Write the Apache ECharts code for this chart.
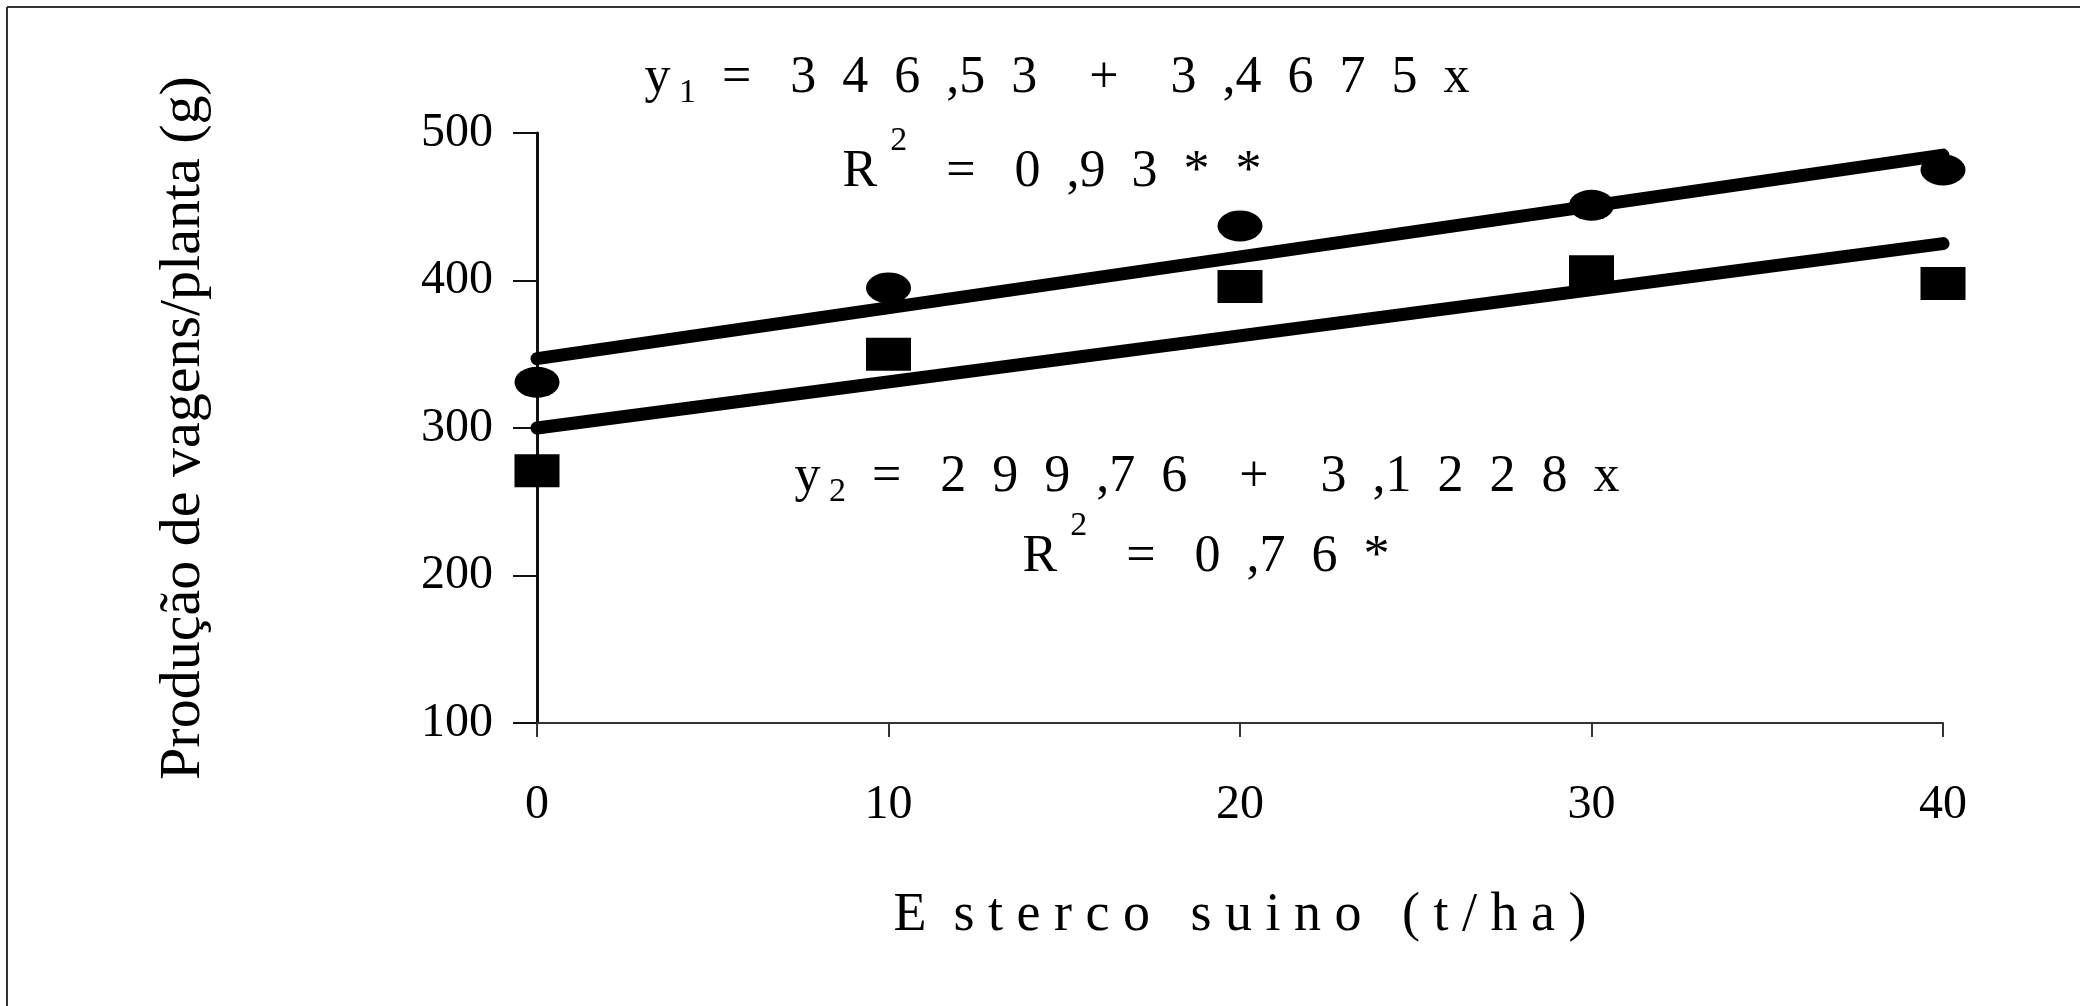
<!DOCTYPE html>
<html>
<head>
<meta charset="utf-8">
<script src="https://cdn.jsdelivr.net/npm/echarts@6/dist/echarts.min.js"></script>
<style>
html, body { margin: 0; padding: 0; background: #fff; }
#chart { width: 2080px; height: 1006px; }
</style>
</head>
<body>
<div id="chart"></div>
<script>
// valores
const doses = [0, 10, 20, 30, 40]
const prod1 = [331, 395, 437, 451, 475]   // y1, circulos
const prod2 = [271, 350, 396, 406, 398]   // y2, quadrados
// extremos das retas ajustadas
const fitX = [0, 40]
const fit1 = [347, 485]
const fit2 = [300, 425]
const yTicks = [100, 200, 300, 400, 500]
const xTicks = [0, 10, 20, 30, 40]

const serif = "'Liberation Serif', 'DejaVu Serif', serif"

//monta pares [x, y]
const pairs = (xs, ys) => xs.map((x, i) => [x, ys[i]])

//texto das equacoes com sub/sobrescrito
const eqText = (text, x, y) => ({
  type: "text",
  x: x,
  y: y,
  style: {
    text: text,
    align: "center",
    verticalAlign: "middle",
    fill: "#000",
    font: "52px " + serif,
    rich: {
      t: { fontSize: 52, fontFamily: serif, lineHeight: 64, verticalAlign: "bottom" },
      sub: { fontSize: 34, fontFamily: serif, lineHeight: 64, verticalAlign: "bottom", padding: [0, 0, -6, 0] },
      sup: { fontSize: 34, fontFamily: serif, lineHeight: 64, verticalAlign: "top", padding: [-10, 0, 0, 0] }
    }
  }
})

const option = {
  backgroundColor: "#fff",
  animation: false,
  grid: {
    left: 537,
    right: 137,
    top: 133,
    bottom: 283
  },
  xAxis: {
    type: "value",
    min: xTicks[0],
    max: xTicks[xTicks.length - 1],
    interval: xTicks[1] - xTicks[0],
    name: "E  s t e r c o   s u i n o   ( t / h a )",
    nameLocation: "middle",
    nameGap: 166,
    nameTextStyle: {
      color: "#000",
      fontFamily: serif,
      fontSize: 54
    },
    axisLine: {
      lineStyle: { color: "#333", width: 2 }
    },
    axisTick: {
      inside: false,
      length: 14,
      lineStyle: { color: "#333", width: 2 }
    },
    axisLabel: {
      margin: 58,
      color: "#000",
      fontFamily: serif,
      fontSize: 48
    },
    splitLine: { show: false }
  },
  yAxis: {
    type: "value",
    min: yTicks[0],
    max: yTicks[yTicks.length - 1],
    interval: yTicks[1] - yTicks[0],
    name: "Produção de vagens/planta (g)",
    nameLocation: "middle",
    nameRotate: 90,
    nameGap: 324,
    nameTextStyle: {
      color: "#000",
      fontFamily: serif,
      fontSize: 58
    },
    axisLine: {
      show: true,
      lineStyle: { color: "#111", width: 3 }
    },
    axisTick: {
      show: true,
      length: 24,
      lineStyle: { color: "#111", width: 2 }
    },
    axisLabel: {
      margin: 44,
      color: "#000",
      fontFamily: serif,
      fontSize: 48
    },
    splitLine: { show: false }
  },
  series: [
    {
      name: "reta y1",
      type: "line",
      data: pairs(fitX, fit1),
      showSymbol: false,
      lineStyle: { color: "#000", width: 13, cap: "round" },
      z: 2
    },
    {
      name: "reta y2",
      type: "line",
      data: pairs(fitX, fit2),
      showSymbol: false,
      lineStyle: { color: "#000", width: 13, cap: "round" },
      z: 2
    },
    {
      name: "y1",
      type: "scatter",
      symbol: "circle",
      symbolSize: [45, 31],
      data: pairs(doses, prod1),
      itemStyle: { color: "#000", opacity: 1 },
      z: 3
    },
    {
      name: "y2",
      type: "scatter",
      symbol: "rect",
      symbolSize: [45, 33],
      data: pairs(doses, prod2),
      itemStyle: { color: "#000", opacity: 1 },
      z: 3
    }
  ],
  graphic: [
    //moldura da digitalizacao (topo e esquerda)
    { type: "line", shape: { x1: 7, y1: 7, x2: 2080, y2: 7 }, style: { stroke: "#333", lineWidth: 2 } },
    { type: "line", shape: { x1: 7, y1: 7, x2: 7, y2: 1006 }, style: { stroke: "#333", lineWidth: 2 } },
    eqText("{t|y}{sub| 1}{t|  =   3  4  6  ,5  3    +    3  ,4  6  7  5  x}", 1057, 72),
    eqText("{t|R }{sup|2}{t|   =   0  ,9  3  *  *}", 1052, 166),
    eqText("{t|y}{sub| 2}{t|  =   2  9  9  ,7  6    +    3  ,1  2  2  8  x}", 1207, 471),
    eqText("{t|R }{sup|2}{t|   =   0  ,7  6  *}", 1206, 551)
  ]
}

const chartEl = echarts.init(document.getElementById("chart"))
chartEl.setOption(option)
</script>
</body>
</html>
